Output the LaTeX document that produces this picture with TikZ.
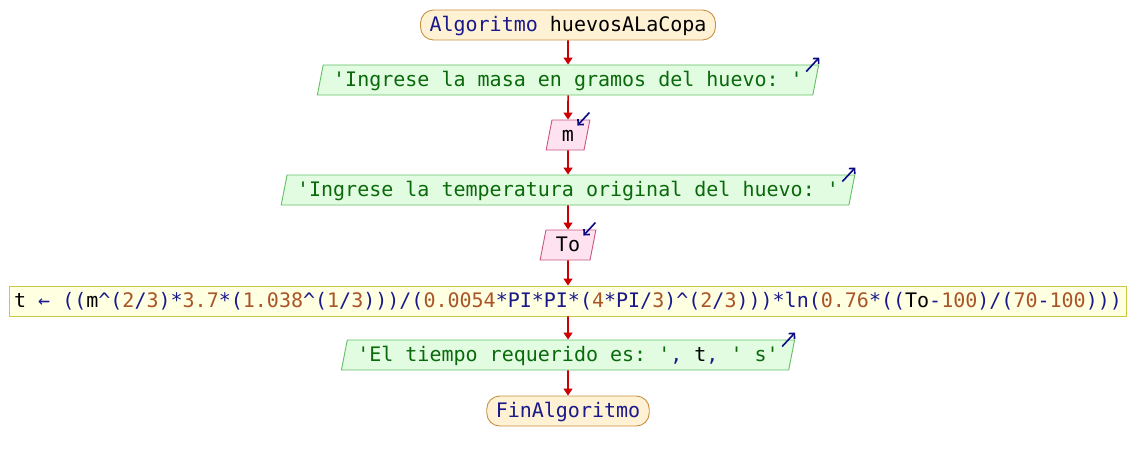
\documentclass[tikz,border=0pt]{standalone}
\usepackage{fontspec}
\setmonofont{DejaVu Sans Mono}[WordSpace={1,0,0}]
\usetikzlibrary{shapes.geometric,arrows.meta,calc}

% syntax colours
\definecolor{kw}{RGB}{25,25,140}
\definecolor{strc}{RGB}{10,105,10}
\definecolor{numc}{RGB}{170,85,40}
% shape colours
\definecolor{termfill}{RGB}{255,241,212}
\definecolor{termline}{RGB}{200,145,65}
\definecolor{outfill}{RGB}{226,252,226}
\definecolor{outline}{RGB}{100,190,100}
\definecolor{infill}{RGB}{255,226,240}
\definecolor{inline}{RGB}{200,85,130}
\definecolor{asgfill}{RGB}{255,255,226}
\definecolor{asgline}{RGB}{200,200,70}
\definecolor{flowred}{RGB}{204,0,0}
\definecolor{ioarrow}{RGB}{10,10,130}

\newcommand{\K}[1]{\textcolor{kw}{#1}}
\newcommand{\Sx}[1]{\textcolor{strc}{#1}}
\newcommand{\N}[1]{\textcolor{numc}{#1}}
\newcommand{\caret}{\K{\textasciicircum}}

\tikzset{
  base/.style={font=\ttfamily\fontsize{20pt}{24pt}\selectfont\frenchspacing,
    text height=15pt, text depth=2pt, minimum height=30pt, inner ysep=0pt,
    line width=0.9pt},
  term/.style={base, rectangle, rounded corners=13pt, draw=termline, fill=termfill, inner xsep=9pt},
  para/.style={base, trapezium, trapezium left angle=71, trapezium right angle=109,
    trapezium stretches body=true, inner xsep=10pt},
  outbox/.style={para, draw=outline, fill=outfill},
  inbox/.style={para, draw=inline, fill=infill},
  asg/.style={base, rectangle, draw=asgline, fill=asgfill, inner xsep=5pt},
  flow/.style={draw=flowred, line width=1.6pt, -{Triangle[length=7pt,width=9pt]}},
  iomark/.style={draw=ioarrow, line width=1.6pt, -{Straight Barb[length=4pt,width=8pt]}}
}

\begin{document}
\begin{tikzpicture}[x=1pt,y=-1pt]
\useasboundingbox (0,0) rectangle (1136,460);

\node[term] (start) at (568,25) {\K{Algoritmo} huevosALaCopa};
\node[outbox] (out1) at (568,80) {\Sx{'Ingrese la masa en gramos del huevo: '}};
\node[inbox] (in1) at (568,135) {m};
\node[outbox] (out2) at (568,190) {\Sx{'Ingrese la temperatura original del huevo: '}};
\node[inbox] (in2) at (568,245) {To};
\node[asg] (calc) at (568,301) {t \K{←} \K{((}m\caret\K{(}\N{2}\K{/}\N{3}\K{)*}\N{3.7}\K{*(}\N{1.038}\caret\K{(}\N{1}\K{/}\N{3}\K{)))/(}\N{0.0054}\K{*PI*PI*(}\N{4}\K{*PI/}\N{3}\K{)}\caret\K{(}\N{2}\K{/}\N{3}\K{)))*ln(}\N{0.76}\K{*((}To\K{-}\N{100}\K{)/(}\N{70}\K{-}\N{100}\K{)))}};
\node[outbox] (out3) at (568,355) {\Sx{'El tiempo requerido es: '}\K{,} t\K{,} \Sx{' s'}};
\node[term] (stop) at (568,411) {\K{FinAlgoritmo}};

% flow connectors
\draw[flow] (start.south) -- (out1.north);
\draw[flow] (out1.south) -- (in1.north);
\draw[flow] (in1.south) -- (out2.north);
\draw[flow] (out2.south) -- (in2.north);
\draw[flow] (in2.south) -- (calc.north);
\draw[flow] (calc.south) -- (out3.north);
\draw[flow] (out3.south) -- (stop.north);

% output / input markers at the upper right corners
\foreach \n in {out1,out2,out3}{
  \coordinate (\n-a) at ($(\n.top right corner)+(-13,7)$);
  \coordinate (\n-b) at ($(\n.top right corner)+(0,-7)$);
  \draw[iomark] (\n-a) -- (\n-b);
}
\foreach \n in {in1,in2}{
  \coordinate (\n-a) at ($(\n.top right corner)+(-1,-7)$);
  \coordinate (\n-b) at ($(\n.top right corner)+(-13,6)$);
  \draw[iomark] (\n-a) -- (\n-b);
}
\end{tikzpicture}
\end{document}
